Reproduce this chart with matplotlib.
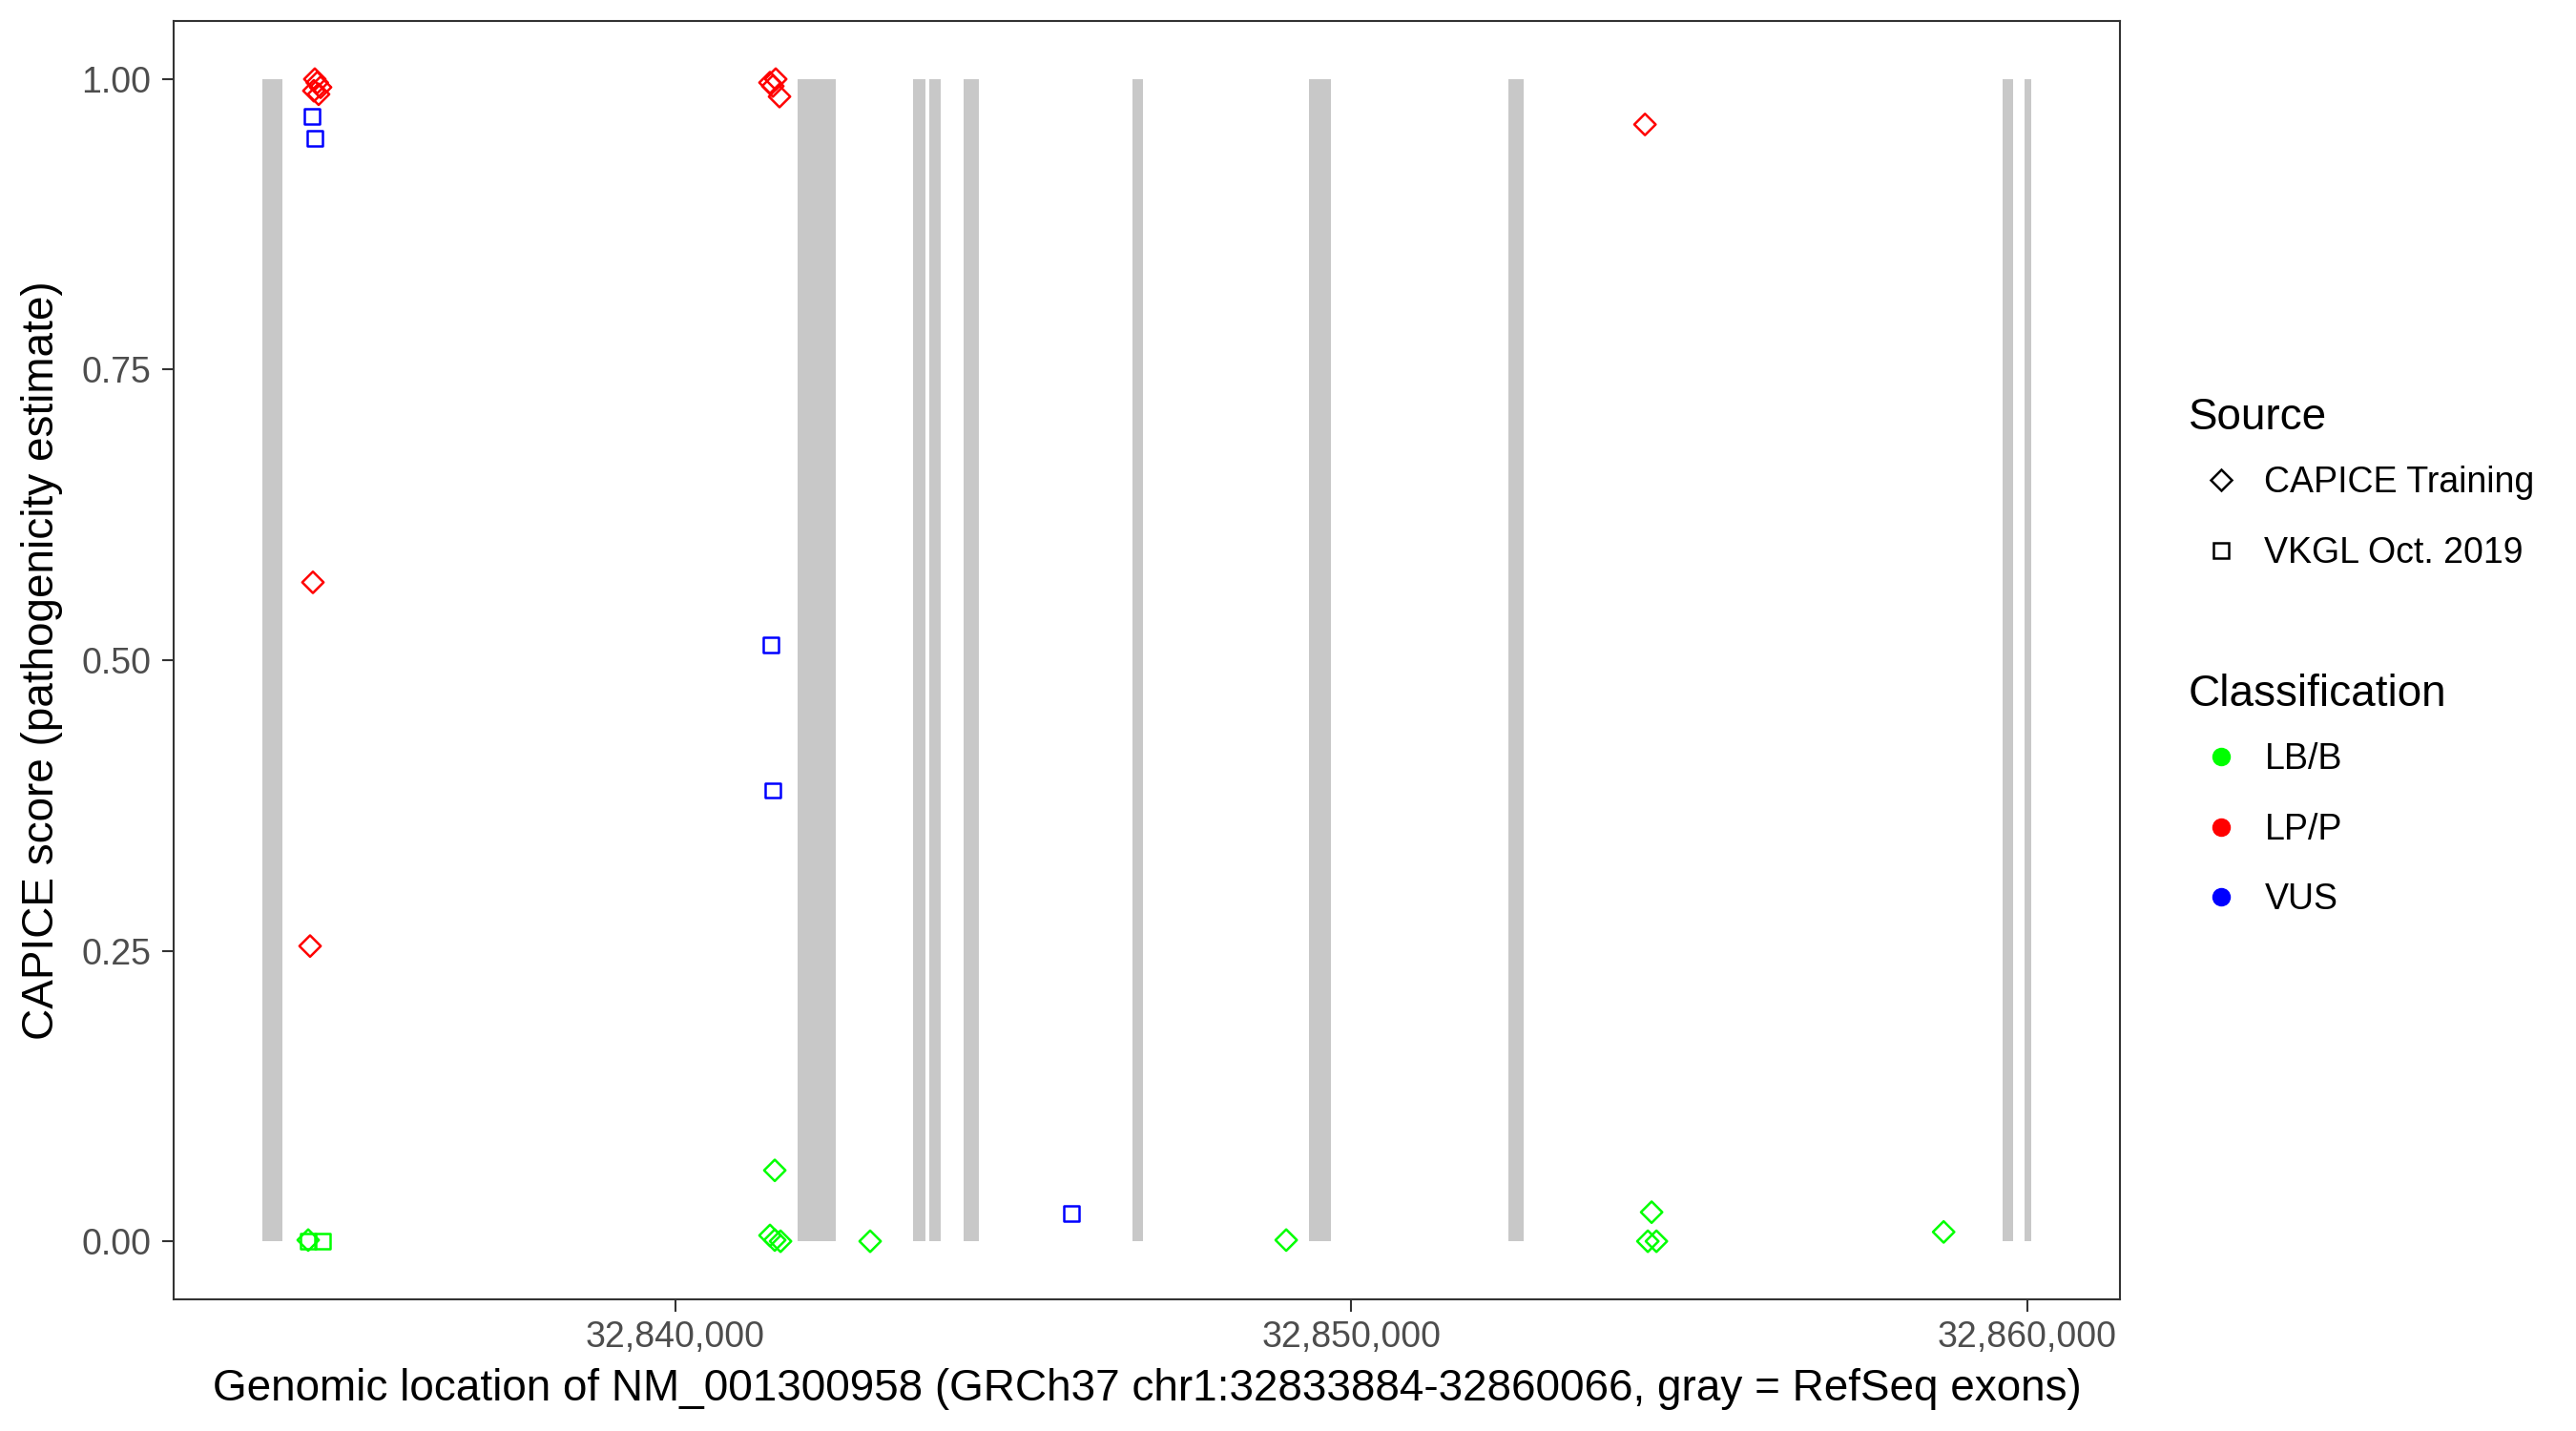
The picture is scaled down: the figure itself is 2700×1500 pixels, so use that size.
import matplotlib
matplotlib.use("Agg")
import matplotlib.pyplot as plt
from matplotlib.lines import Line2D
from matplotlib.ticker import FuncFormatter

plt.rcParams["font.family"] = ["Liberation Sans", "DejaVu Sans"]

TX_START = 32833884
TX_END = 32860066

# RefSeq exons (gray bars)
exon_starts = [32833884, 32841808, 32843517, 32843757, 32844265,
               32846764, 32849376, 32852326, 32859640, 32859965]
exon_ends = [32834185, 32842373, 32843700, 32843926, 32844491,
             32846919, 32849701, 32852552, 32859795, 32860066]

# CAPICE training variants (diamonds)
capice_pos = [32834664, 32834700, 32834749, 32834650, 32834720,
              32834636, 32834594,
              32841399, 32841484, 32841441, 32841540,
              32854346,
              32834566,
              32841470, 32841399, 32841470, 32841555,
              32842881, 32849037,
              32854444, 32854388, 32854515, 32858765]
capice_score = [1.000, 0.997, 0.993, 0.990, 0.987,
                0.567, 0.254,
                0.997, 1.000, 0.994, 0.985,
                0.961,
                0.001,
                0.061, 0.005, 0.001, 0.000,
                0.000, 0.001,
                0.025, 0.000, 0.000, 0.008]
capice_class = ["LP/P"] * 12 + ["LB/B"] * 11

# VKGL Oct. 2019 variants (squares)
vkgl_pos = [32834622, 32834664, 32841413, 32841441, 32845860,
            32834566, 32834777]
vkgl_score = [0.968, 0.949, 0.513, 0.388, 0.024,
              0.000, 0.000]
vkgl_class = ["VUS"] * 5 + ["LB/B"] * 2

class_names = ["LB/B", "LP/P", "VUS"]
class_colors = {"LB/B": "#00FF00", "LP/P": "#FF0000", "VUS": "#0000FF"}

fig = plt.figure(figsize=(27, 15), dpi=100)
ax = fig.add_axes([0.0674, 0.092, 0.823 - 0.0674, 0.9853 - 0.092])

widths = [e - s for s, e in zip(exon_starts, exon_ends)]
ax.bar(exon_starts, [1.0] * len(exon_starts), width=widths, bottom=0,
       align="edge", color="#C8C8C8", linewidth=0, zorder=1)

ax.scatter(capice_pos, capice_score, marker="D", s=130, facecolors="none",
           edgecolors=[class_colors[c] for c in capice_class],
           linewidths=1.8, zorder=3)
ax.scatter(vkgl_pos, vkgl_score, marker="s", s=125, facecolors="none",
           edgecolors=[class_colors[c] for c in vkgl_class],
           linewidths=1.8, zorder=3)

pad = 0.05 * (TX_END - TX_START)
ax.set_xlim(TX_START - pad, TX_END + pad)
ax.set_ylim(-0.05, 1.05)
ax.set_xticks([32840000, 32850000, 32860000])
ax.xaxis.set_major_formatter(FuncFormatter(lambda v, p: f"{int(v):,}"))
ax.set_yticks([0, 0.25, 0.5, 0.75, 1.0])
ax.yaxis.set_major_formatter(FuncFormatter(lambda v, p: f"{v:.2f}"))

for sp in ax.spines.values():
    sp.set_color("#333333")
    sp.set_linewidth(1.5)
ax.tick_params(axis="both", color="#333333", length=9, width=1.5,
               labelsize=27, labelcolor="#4D4D4D")
ax.tick_params(axis="x", pad=6.5)
ax.tick_params(axis="y", pad=8)

ax.set_xlabel("Genomic location of NM_001300958 (GRCh37 chr1:32833884-32860066, gray = RefSeq exons)",
              fontsize=33)
ax.set_ylabel("CAPICE score (pathogenicity estimate)", fontsize=33)
ax.xaxis.set_label_coords(0.5, -0.054)
ax.yaxis.set_label_coords(-0.0569, 0.5)

# legends
src_handles = [
    Line2D([], [], linestyle="none", marker="D", markersize=11.4,
           markerfacecolor="none", markeredgecolor="black", markeredgewidth=1.8),
    Line2D([], [], linestyle="none", marker="s", markersize=11,
           markerfacecolor="none", markeredgecolor="black", markeredgewidth=1.8),
]
leg1 = fig.legend(src_handles, ["CAPICE Training", "VKGL Oct. 2019"],
                  title="Source", loc="upper left",
                  bbox_to_anchor=(0.8496, 0.7224), frameon=False,
                  fontsize=27, title_fontsize=33, alignment="left",
                  borderpad=0, borderaxespad=0, handlelength=1.82,
                  handletextpad=0.3, labelspacing=1.0)

cls_handles = [Line2D([], [], linestyle="none", marker="o", markersize=13,
                      markerfacecolor=class_colors[c], markeredgecolor=class_colors[c])
               for c in class_names]
leg2 = fig.legend(cls_handles, class_names, title="Classification",
                  loc="upper left", bbox_to_anchor=(0.8496, 0.529),
                  frameon=False, fontsize=27, title_fontsize=33,
                  alignment="left", borderpad=0, borderaxespad=0,
                  handlelength=1.82, handletextpad=0.3, labelspacing=1.0)

# tighter gap between legend title and first key, as in ggplot
for leg in (leg1, leg2):
    leg._legend_box.sep = 20

fig.savefig("out.png", dpi=100)
